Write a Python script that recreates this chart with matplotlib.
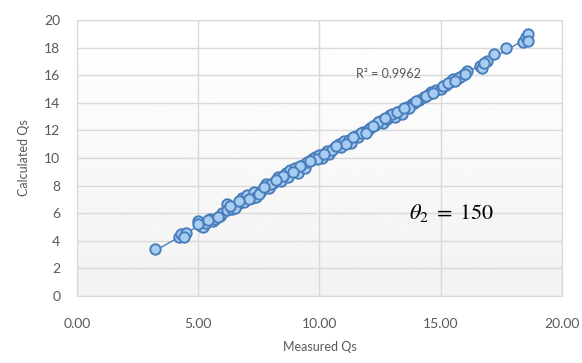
import matplotlib.pyplot as plt
import numpy as np

# values
measured = [3.2, 4.2, 4.3, 4.5, 4.4, 5.0, 5.1, 5.2, 5.3, 5.5, 5.6, 5.7, 5.9, 6.0,
            6.2, 6.2, 6.4, 6.6, 6.8, 6.9, 7.0, 7.2, 7.3, 7.4, 7.6, 7.8, 7.9, 8.1,
            8.3, 8.4, 8.6, 8.7, 8.8, 9.0, 9.1, 9.3, 9.4, 9.5, 9.7, 9.8, 10.0, 10.1,
            10.3, 10.4, 10.6, 10.8, 10.9, 11.0, 11.2, 11.3, 11.5, 11.6, 11.8, 12.0,
            12.1, 12.3, 12.5, 12.6, 12.8, 12.9, 13.1, 13.3, 13.4, 13.6, 13.8, 13.9,
            14.1, 14.3, 14.5, 14.6, 14.8, 15.0, 15.2, 15.4, 15.5, 15.7, 15.9, 16.1,
            16.6, 16.7, 16.9, 17.2, 17.7, 18.4, 18.5, 18.6, 18.6,
            5.4, 6.5, 7.1, 8.0, 8.5, 9.2, 9.9, 10.5, 11.1, 11.7, 12.4, 13.0, 13.7,
            14.4, 15.1, 15.8, 16.8,
            5.0, 5.8, 6.3, 6.7, 7.5, 7.7, 8.2, 8.9, 9.6, 10.2, 10.7, 11.4, 11.9,
            12.2, 12.7, 13.2, 13.5, 14.0, 14.7, 15.3, 15.6, 16.0]
calculated = [3.4, 4.3, 4.5, 4.6, 4.3, 5.4, 5.1, 5.0, 5.3, 5.6, 5.4, 5.6, 5.8, 6.0,
              6.7, 6.2, 6.3, 6.6, 7.1, 6.8, 7.3, 7.1, 7.5, 7.2, 7.6, 8.1, 7.8, 8.2,
              8.6, 8.3, 8.9, 8.6, 9.1, 9.3, 8.9, 9.5, 9.3, 9.7, 9.9, 10.1, 10.2, 10.0,
              10.5, 10.3, 10.7, 11.0, 10.8, 11.2, 11.3, 11.1, 11.6, 11.5, 11.9, 12.0,
              12.2, 12.4, 12.7, 12.5, 12.8, 13.1, 13.0, 13.4, 13.2, 13.7, 13.9, 14.0,
              14.2, 14.4, 14.6, 14.8, 14.9, 15.0, 15.3, 15.5, 15.7, 15.8, 16.0, 16.3,
              16.7, 16.5, 17.0, 17.5, 18.0, 18.4, 18.8, 19.0, 18.5,
              5.5, 6.4, 7.0, 8.1, 8.7, 9.4, 9.9, 10.6, 11.0, 11.8, 12.6, 13.2, 13.6,
              14.5, 15.2, 15.9, 16.9,
              5.2, 5.7, 6.5, 6.9, 7.4, 7.9, 8.4, 9.0, 9.8, 10.3, 10.9, 11.5, 11.8,
              12.3, 12.9, 13.3, 13.6, 14.1, 14.7, 15.4, 15.6, 16.1]
r2_text = 'R² = 0.9962'
theta_text = r'$\theta_2\;=\;150$'
x_ticks = [0, 5, 10, 15, 20]
y_ticks = list(range(0, 21, 2))

plt.rcParams['mathtext.fontset'] = 'stix'
plt.rcParams['font.family'] = ['Lato', 'DejaVu Sans']
fig = plt.figure(figsize=(5.82, 3.63), dpi=100)
ax = fig.add_axes([0.1323, 0.1846, 0.8333, 0.7604])

# light grey gradient in plot area
grad = np.linspace(1.0, 0.95, 100).reshape(-1, 1)
ax.imshow(grad, extent=[0, 1, 0, 1], transform=ax.transAxes, aspect='auto',
          cmap='gray', vmin=0, vmax=1, zorder=0)

# trendline
coef = np.polyfit(measured, calculated, 1)
xs = np.array([min(measured), max(measured)])
ax.plot(xs, np.polyval(coef, xs), color='#4a7ebb', lw=1.0, zorder=2)

ax.plot(measured, calculated, 'o', ms=7.5, mfc='#a8cdf2', mec='#4a7ebb', mew=1.4,
        zorder=3)

ax.set_xlim(0, 20)
ax.set_ylim(0, 20)
ax.set_xticks(x_ticks)
ax.set_xticklabels(['{:.2f}'.format(v) for v in x_ticks])
ax.set_yticks(y_ticks)
ax.grid(True, color='#d9d9d9', lw=1.0)
ax.set_axisbelow(True)
ax.tick_params(length=0, labelsize=10, labelcolor='#595959')
ax.tick_params(axis='x', pad=16)
ax.tick_params(axis='y', pad=12)
for s in ax.spines.values():
    s.set_color('#d9d9d9')

ax.set_xlabel('Measured Qs', fontsize=9, color='#595959', labelpad=8)
ax.set_ylabel('Calculated Qs', fontsize=9, color='#595959', labelpad=10)

ax.text(12.85, 16.1, r2_text, fontsize=9, color='#595959', ha='center', va='center')
ax.text(15.45, 6.0, theta_text, fontsize=16, color='black', ha='center', va='center')

fig.savefig('out.png', dpi=100)
